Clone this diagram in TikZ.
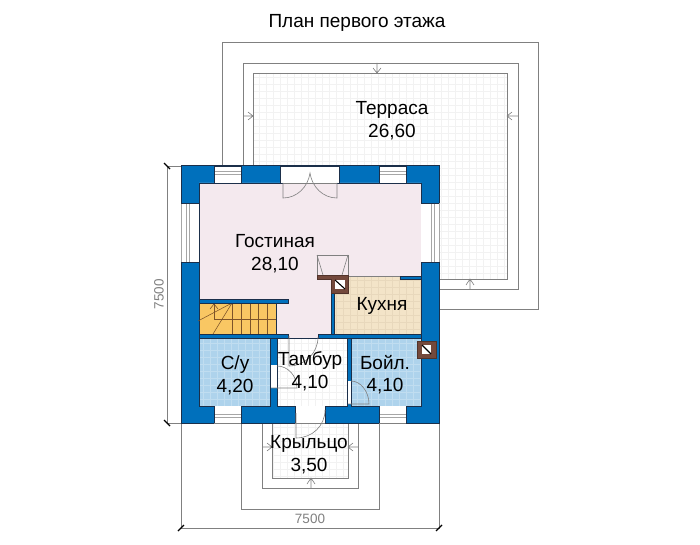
\documentclass[tikz,border=0pt]{standalone}
\usepackage{fontspec}
\setmainfont{Liberation Sans}
\definecolor{wallblue}{HTML}{0070BC}
\definecolor{wallline}{HTML}{1B2F4A}
\definecolor{pinkroom}{HTML}{F4E9EE}
\definecolor{blueroom}{HTML}{AED3EC}
\definecolor{bluegrid}{HTML}{C0DDF0}
\definecolor{kitchen}{HTML}{F3E4C8}
\definecolor{kitchengrid}{HTML}{E8D8BC}
\definecolor{stairs}{HTML}{F9C763}
\definecolor{brick}{HTML}{74493C}
\definecolor{dimgrey}{HTML}{808080}
\tikzset{
  x=1pt,y=-1pt,
  wall/.style={fill=wallblue,draw=wallline,line width=1pt},
  blueline/.style={fill=wallblue,draw=wallline,line width=.6pt},
  terr/.style={draw=dimgrey,line width=.85pt},
  outline/.style={draw=dimgrey,line width=.75pt},
  thin grey/.style={draw=dimgrey,line width=.6pt},
  opening/.style={fill=white,draw=none},
  winline/.style={draw=gray!70,line width=.7pt},
  room/.style={draw=wallline,line width=.8pt},
  flue/.style={fill=brick,draw=brick!70!black,line width=.5pt},
  stairline/.style={draw=brown!65!black,line width=.55pt},
  arrowmark/.style={draw=dimgrey,line width=.6pt},
  label/.style={font=\fontsize{19}{22}\selectfont,text=black,anchor=base,inner sep=0pt},
  dimtext/.style={font=\fontsize{13.5}{15}\selectfont,text=dimgrey,inner sep=0pt},
  tick/.style={draw=black,line width=1.1pt}
}
\newcommand{\gridrect}[6]{%
  \begin{scope}
    \clip (#1,#2) rectangle (#3,#4);
    \fill[#5] (#1,#2) rectangle (#3,#4);
    \foreach \gv in {0,7,...,700}{\draw[#6,line width=.4pt] (\gv,#2) -- (\gv,#4);}
    \foreach \gv in {0,7,...,546}{\draw[#6,line width=.4pt] (#1,\gv) -- (#3,\gv);}
  \end{scope}}
\begin{document}
\begin{tikzpicture}
\useasboundingbox (0,0) rectangle (700,545);
\fill[white] (0,0) rectangle (700,545);
% title
\node[label] (title) at (357,28) {План первого этажа};
% terrace
\gridrect{253}{73}{507}{279}{white}{black!5}
\draw[outline] (222,42) rectangle (538,309);
\draw[terr] (243,63) rectangle (518,289);
\draw[terr] (253,73) rectangle (507,279);
\draw[arrowmark] (377,63) -- (377,73) (373,68) -- (377,73) -- (381,68);
\draw[arrowmark] (243,116) -- (253,116) (248,112) -- (253,116) -- (248,120);
\draw[arrowmark] (518,116) -- (507,116) (512,112) -- (507,116) -- (512,120);
\draw[arrowmark] (470,289) -- (470,279) (466,285) -- (470,279) -- (474,285);
% porch
\gridrect{272}{423}{348}{478}{white}{black!5}
\draw[outline] (241,423) -- (241,509) -- (379,509) -- (379,423);
\draw[terr] (262,423) -- (262,488) -- (358,488) -- (358,423);
\draw[terr] (272,423) -- (272,478) -- (348,478) -- (348,423);
\draw[arrowmark] (262,447) -- (272,447) (267,443) -- (272,447) -- (267,451);
\draw[arrowmark] (358,447) -- (348,447) (353,443) -- (348,447) -- (353,451);
\draw[arrowmark] (311,488) -- (311,478) (307,484) -- (311,478) -- (315,484);
% dimensions
\draw[thin grey] (181,166) -- (167,166) -- (167,423) -- (181,423);
\draw[thin grey] (181,423) -- (181,528) -- (439,528) -- (439,423);
\draw[tick] (164,163) -- (170,169);
\draw[tick] (164,420) -- (170,426);
\draw[tick] (178,531) -- (184,525);
\draw[tick] (436,531) -- (442,525);
\node[dimtext] (dimbottom) at (310,519) {7500};
\node[dimtext,rotate=90] (dimleft) at (159,294) {7500};
% house body
\draw[wall] (181,166) rectangle (439,423);
% living room
\fill[pinkroom] (199,183) -- (421,183) -- (421,276) -- (331,276) -- (331,338) -- (289,338) -- (289,334) -- (276,334) -- (276,299) -- (199,299) -- cycle;
\draw[room] (199,299) -- (199,183) -- (421,183) -- (421,276);
\draw[room,draw=wallline] (331,293) -- (331,334);
% kitchen
\gridrect{334}{276}{421}{334}{kitchen}{kitchengrid}
\draw[room] (334,293) -- (334,334) -- (421,334) -- (421,276);
\draw[thin grey] (348,276) -- (400,276);
\draw[blueline] (400,276) rectangle (421,279);
% stairs
\fill[stairs] (199,303) rectangle (276,334);
\draw[room] (199,303) rectangle (276,334);
\foreach \sx in {232,241,250,258,267}{\draw[stairline] (\sx,303) -- (\sx,334);}
\draw[stairline] (214,303) -- (214,319) -- (276,319);
\draw[stairline] (232,303) -- (198,321) (232,303) -- (213,334);
\draw[stairline] (210,309) -- (214,304) -- (218,309);
\fill[wallline] (213,302) rectangle (215,304) (231,302) rectangle (233,304);
\draw[blueline] (199,299) rectangle (288,303);
\draw[blueline] (199,334) rectangle (288,338);
\draw[blueline] (318,334) rectangle (421,338);
% lower rooms
\gridrect{199}{338}{270}{406}{blueroom}{bluegrid}
\draw[room] (199,338) rectangle (270,406);
\gridrect{277}{338}{347}{406}{white}{black!5}
\draw[room] (277,338) rectangle (347,406);
\gridrect{351}{338}{421}{406}{blueroom}{bluegrid}
\draw[room] (351,338) rectangle (421,406);
% windows and door openings
\fill[opening] (214,166) rectangle (241,183);
\draw[winline] (214,171) -- (241,171) (214,174) -- (241,174);
\fill[opening] (379,166) rectangle (406,183);
\draw[winline] (379,171) -- (406,171) (379,174) -- (406,174);
\fill[opening] (214,406) rectangle (241,423);
\draw[winline] (214,414) -- (241,414) (214,417) -- (241,417);
\fill[opening] (379,406) rectangle (406,423);
\draw[winline] (379,414) -- (406,414) (379,417) -- (406,417);
\fill[opening] (181,203) rectangle (199,262);
\draw[winline] (186,203) -- (186,262) (189,203) -- (189,262) (181,203) -- (181,262);
\fill[opening] (421,203) rectangle (439,262);
\draw[winline] (431,203) -- (431,262) (434,203) -- (434,262) (439,203) -- (439,262);
\draw[wallline,line width=.9pt] (181,203) -- (199,203) (181,262) -- (199,262) (421,203) -- (439,203) (421,262) -- (439,262);
\fill[opening] (280,166) rectangle (339,183);
\draw[wallline,line width=.9pt] (214,166) -- (241,166) (280,166) -- (339,166) (379,166) -- (406,166);
\draw[wallline,line width=.9pt] (214,166) -- (214,183) (241,166) -- (241,183) (280,166) -- (280,183) (339,166) -- (339,183) (379,166) -- (379,183) (406,166) -- (406,183);
\draw[wallline,line width=.9pt] (214,406) -- (214,423) (241,406) -- (241,423) (379,406) -- (379,423) (406,406) -- (406,423);
\fill[opening] (295,406) rectangle (325,423);
\draw[wallline,line width=.9pt] (295,406) -- (295,423) (325,406) -- (325,423);
\draw[dimgrey,line width=.8pt] (214,423) -- (241,423) (295,423) -- (325,423) (379,423) -- (406,423);
\fill[opening] (270.5,365) rectangle (276.5,388);
\fill[opening] (347.5,381) rectangle (350.5,404);
\fill[pinkroom] (289,334.5) rectangle (318,337.5);
% doors
\draw[thin grey] (283,183) -- (337,183);
\draw[thin grey] (283,183) -- (283,198) .. controls (297,198) and (308,187) .. (310,173) .. controls (312,187) and (323,198) .. (337,198) -- (337,183);
\draw[thin grey] (289,336) -- (289,366) .. controls (305,366) and (318,353) .. (318,337);
\draw[thin grey] (277,366) .. controls (288,366) and (297,376) .. (297,388) -- (271,388);
\draw[thin grey] (351,381) .. controls (361,381) and (369,392) .. (369,404) -- (348,404);
\draw[thin grey] (296,413) -- (296,438) .. controls (312,438) and (325,426) .. (325,410);
% flues
\draw[thin grey] (317,275) -- (317,255) -- (348,255) -- (348,275);
\draw[thin grey] (317,255) -- (323,275) (348,255) -- (342,275);
\draw[flue] (317,275) -- (348,275) -- (348,293) -- (331,293) -- (331,279) -- (317,279) -- cycle;
\fill[white] (335,280) rectangle (345,289);
\draw[black,line width=1.1pt] (335,280) -- (345,289);
\draw[flue] (417,341) rectangle (436,358);
\fill[white] (422,345) rectangle (431,354);
\draw[black,line width=1.1pt] (422,345) -- (431,354);
% labels
\node[label] (terrace) at (392,115) {Терраса};
\node[label] (terraceA) at (392,138) {26,60};
\node[label] (living) at (275,247) {Гостиная};
\node[label] (livingA) at (275,270) {28,10};
\node[label] (kuhnya) at (382,310) {Кухня};
\node[label] (su) at (235,369) {С/у};
\node[label] (suA) at (235,392) {4,20};
\node[label] (tambur) at (310,365) {Тамбур};
\node[label] (tamburA) at (310,388) {4,10};
\node[label] (boil) at (385,369) {Бойл.};
\node[label] (boilA) at (385,391) {4,10};
\node[label] (porch) at (309,448) {Крыльцо};
\node[label] (porchA) at (309,471) {3,50};
\end{tikzpicture}
\end{document}
